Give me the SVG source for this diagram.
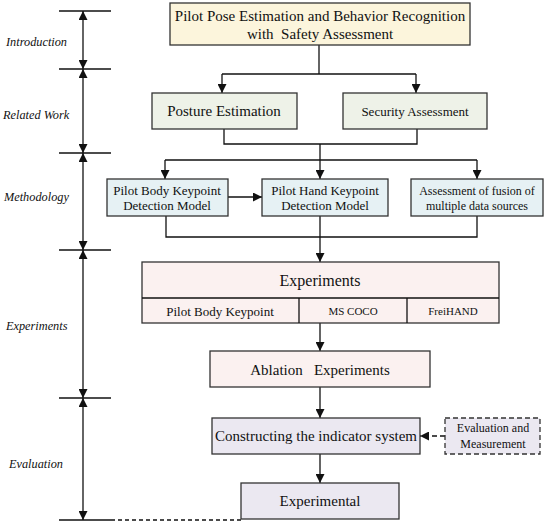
<svg xmlns="http://www.w3.org/2000/svg" width="550" height="525" viewBox="0 0 550 525" font-family="'Liberation Serif', 'Times New Roman', 'DejaVu Serif', serif">
<style>
text{font-family:'Liberation Serif','Times New Roman','DejaVu Serif',serif;fill:#111;text-anchor:middle}
.lbl{font-style:italic;font-size:12.3px;text-anchor:start}
.box{stroke:#333;stroke-width:1.3}
.ln{stroke:#111;stroke-width:1.3;fill:none}
.y{fill:#fcf5dc}.g{fill:#eef2e8}.b{fill:#e6f1f4}.p{fill:#fbf1f0}.v{fill:#ebe8f1}
</style>
<defs>
<marker id="ah" viewBox="0 0 10 10" refX="10" refY="5" markerWidth="9" markerHeight="9" markerUnits="userSpaceOnUse" orient="auto"><path d="M0,0L10,5L0,10z" fill="#111"/></marker>
</defs>
<g id="axis">
<g class="ln">
<line x1="59" y1="11" x2="111" y2="11"/>
<line x1="59" y1="69" x2="111" y2="69"/>
<line x1="59" y1="153" x2="111" y2="153"/>
<line x1="59" y1="250" x2="111" y2="250"/>
<line x1="59" y1="398" x2="111" y2="398"/>
<line x1="59" y1="520" x2="111" y2="520"/>
<line x1="111" y1="520" x2="241" y2="520" stroke-dasharray="4,3"/>
<line x1="83" y1="40" x2="83" y2="11" marker-end="url(#ah)"/>
<line x1="83" y1="40" x2="83" y2="69" marker-end="url(#ah)"/>
<line x1="83" y1="110" x2="83" y2="69" marker-end="url(#ah)"/>
<line x1="83" y1="110" x2="83" y2="153" marker-end="url(#ah)"/>
<line x1="83" y1="200" x2="83" y2="153" marker-end="url(#ah)"/>
<line x1="83" y1="200" x2="83" y2="250" marker-end="url(#ah)"/>
<line x1="83" y1="320" x2="83" y2="250" marker-end="url(#ah)"/>
<line x1="83" y1="320" x2="83" y2="398" marker-end="url(#ah)"/>
<line x1="83" y1="460" x2="83" y2="398" marker-end="url(#ah)"/>
<line x1="83" y1="460" x2="83" y2="520" marker-end="url(#ah)"/>
</g>
<text class="lbl" x="6" y="46">Introduction</text>
<text class="lbl" x="3" y="119">Related Work</text>
<text class="lbl" x="4" y="201">Methodology</text>
<text class="lbl" x="6" y="330">Experiments</text>
<text class="lbl" x="9" y="468">Evaluation</text>
</g>
<g id="connectors" class="ln">
<polyline points="319,45 319,74"/>
<polyline points="222,74 416,74"/>
<line x1="222" y1="74" x2="222" y2="93" marker-end="url(#ah)"/>
<line x1="416" y1="74" x2="416" y2="93" marker-end="url(#ah)"/>
<polyline points="224,129 224,144 417,144 417,129"/>
<polyline points="320,144 320,160"/>
<polyline points="165,160 477,160"/>
<line x1="165" y1="160" x2="165" y2="179" marker-end="url(#ah)"/>
<line x1="320" y1="160" x2="320" y2="179" marker-end="url(#ah)"/>
<line x1="477" y1="160" x2="477" y2="179" marker-end="url(#ah)"/>
<line x1="228" y1="197" x2="262" y2="197" marker-end="url(#ah)"/>
<polyline points="166,216 166,237 477,237 477,216"/>
<line x1="320" y1="216" x2="320" y2="262" marker-end="url(#ah)"/>
<line x1="320" y1="323" x2="320" y2="351" marker-end="url(#ah)"/>
<line x1="320" y1="387" x2="320" y2="418" marker-end="url(#ah)"/>
<line x1="445" y1="436" x2="420" y2="436" stroke-dasharray="5,3" marker-end="url(#ah)"/>
<line x1="320" y1="454" x2="320" y2="483" marker-end="url(#ah)"/>
</g>
<g id="n-title">
<rect class="box y" x="170" y="3" width="300" height="42"/>
<text x="320" y="21" font-size="15">Pilot Pose Estimation and Behavior Recognition</text>
<text x="320" y="39" font-size="15" xml:space="preserve">with  Safety Assessment</text>
</g>
<g id="n-posture">
<rect class="box g" x="152" y="93" width="145" height="36"/>
<text x="224" y="116" font-size="15">Posture Estimation</text>
</g>
<g id="n-security">
<rect class="box g" x="343" y="93" width="144" height="36"/>
<text x="415" y="116" font-size="13">Security Assessment</text>
</g>
<g id="n-body">
<rect class="box b" x="107" y="179" width="121" height="37"/>
<text x="167" y="195" font-size="13">Pilot Body Keypoint</text>
<text x="167" y="210" font-size="13">Detection Model</text>
</g>
<g id="n-hand">
<rect class="box b" x="262" y="179" width="126" height="37"/>
<text x="325" y="195" font-size="13">Pilot Hand Keypoint</text>
<text x="325" y="210" font-size="13">Detection Model</text>
</g>
<g id="n-fusion">
<rect class="box b" x="411" y="179" width="132" height="37"/>
<text x="477" y="195" font-size="12">Assessment of fusion of</text>
<text x="477" y="210" font-size="12">multiple data sources</text>
</g>
<g id="n-experiments">
<rect class="box p" x="142" y="262" width="357" height="61"/>
<line class="ln" x1="142" y1="298" x2="499" y2="298"/>
<line class="ln" x1="299" y1="298" x2="299" y2="323"/>
<line class="ln" x1="407" y1="298" x2="407" y2="323"/>
<text x="320" y="286" font-size="16">Experiments</text>
<text x="220" y="316" font-size="13">Pilot Body Keypoint</text>
<text x="353" y="315" font-size="11">MS COCO</text>
<text x="453" y="315" font-size="11">FreiHAND</text>
</g>
<g id="n-ablation">
<rect class="box p" x="210" y="351" width="220" height="36"/>
<text x="320" y="375" font-size="15" xml:space="preserve">Ablation   Experiments</text>
</g>
<g id="n-indicator">
<rect class="box v" x="212" y="418" width="208" height="36"/>
<text x="316" y="441" font-size="15">Constructing the indicator system</text>
</g>
<g id="n-eval">
<rect x="445" y="418" width="95" height="36" fill="#ebe8f1" stroke="#333" stroke-width="1.3" stroke-dasharray="5,3"/>
<text x="493" y="432" font-size="12">Evaluation and</text>
<text x="493" y="448" font-size="12">Measurement</text>
</g>
<g id="n-experimental">
<rect class="box v" x="241" y="483" width="158" height="36"/>
<text x="320" y="506" font-size="15">Experimental</text>
</g>
</svg>
